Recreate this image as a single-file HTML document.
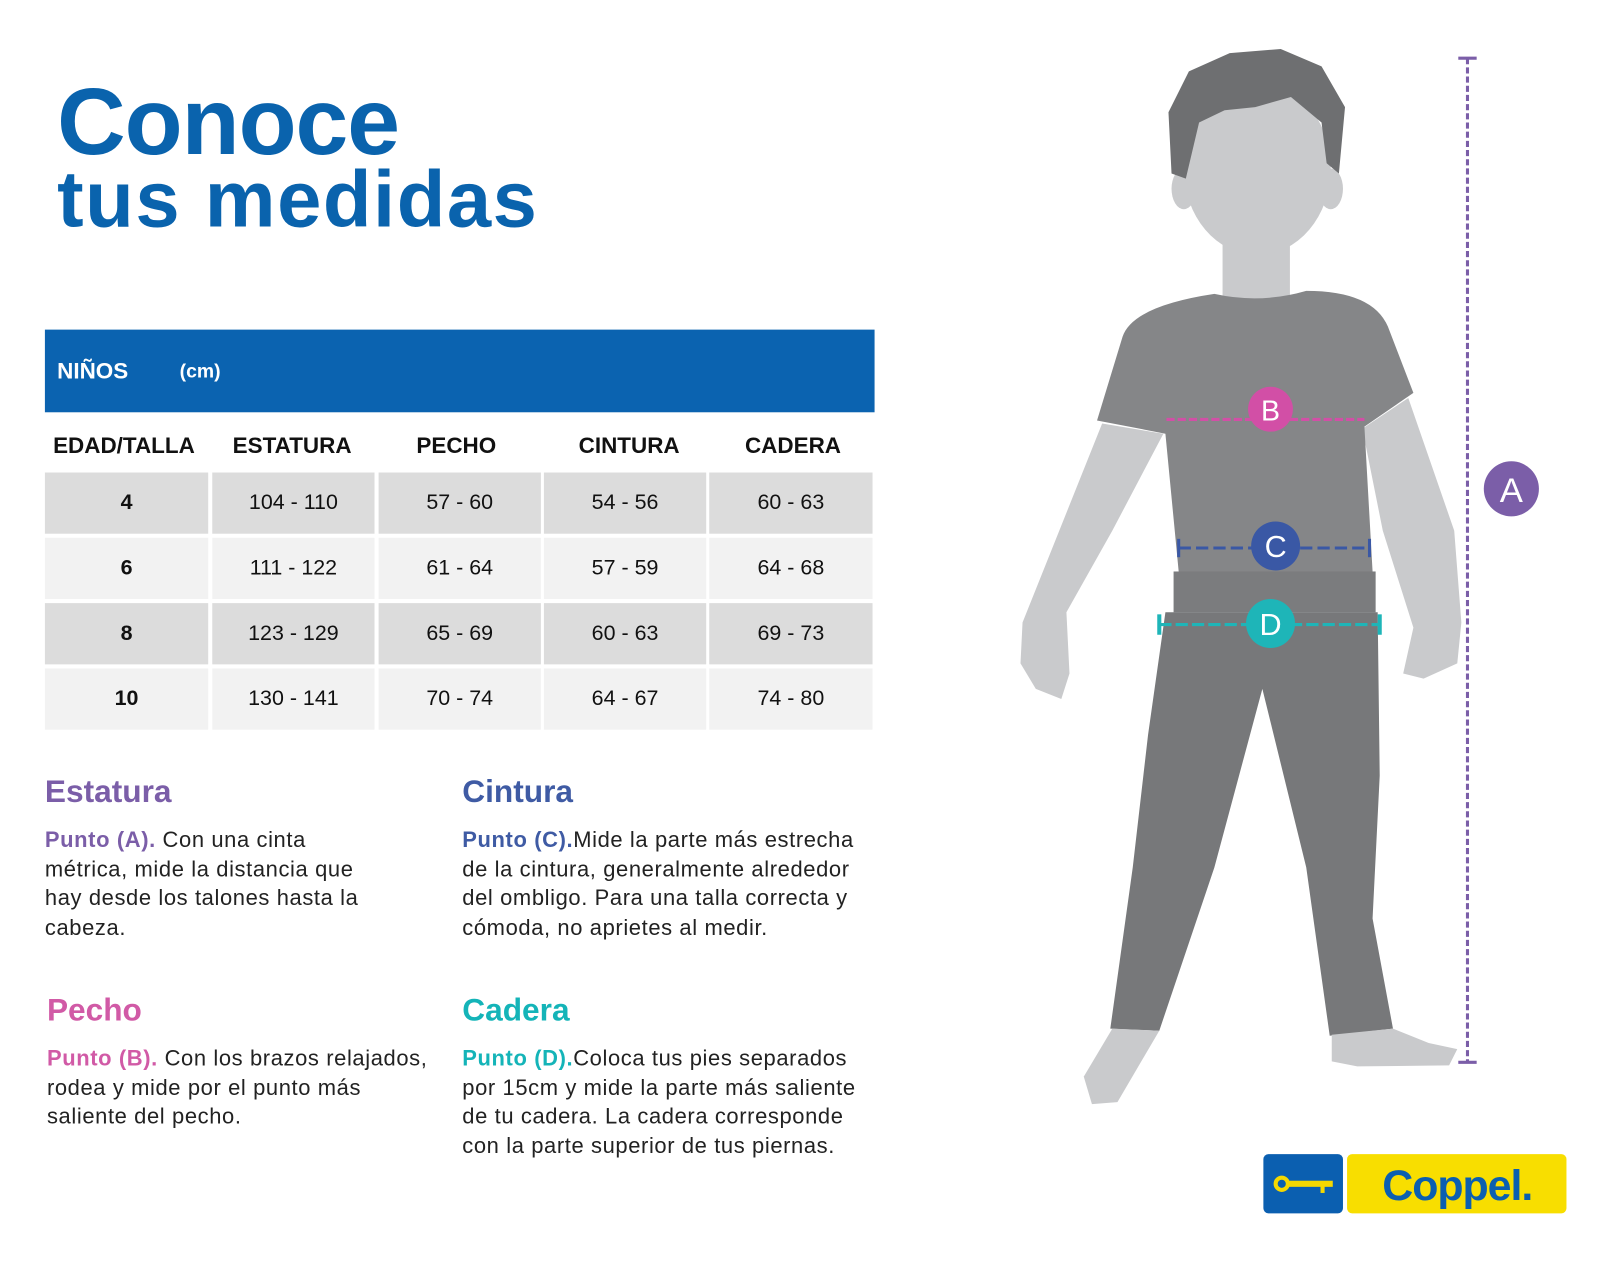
<!DOCTYPE html>
<html><head><meta charset="utf-8"><style>
html,body{margin:0;padding:0;background:#fff;}
body{width:1600px;height:1280px;overflow:hidden;position:relative;font-family:"Liberation Sans",sans-serif;}
#w{position:absolute;left:0;top:0;width:1570px;height:1255px;transform:scale(1.0205);transform-origin:0 0;}
.a{position:absolute;white-space:nowrap;}
.t1{left:56px;top:66px;font-size:93px;font-weight:bold;color:#0a63ad;letter-spacing:-1px;}
.t2{left:56px;top:150px;font-size:78px;font-weight:bold;color:#0a63ad;letter-spacing:1.5px;}
.bar{left:44px;top:323px;width:813px;height:81px;background:#0b63b0;}
.hd{font-size:22px;font-weight:bold;color:#111;top:424px;}
.c{position:absolute;height:60px;line-height:60px;text-align:center;font-size:21px;color:#111;}
.h2{font-size:31px;font-weight:bold;}
.p{font-size:21.5px;line-height:28.5px;color:#222;letter-spacing:0.6px;}
</style></head><body><div id="w">
<div class="a t1">Conoce</div>
<div class="a t2">tus medidas</div>
<div class="a bar"></div>
<div class="a" style="left:56px;top:351px;font-size:22px;font-weight:bold;color:#fff">NIÑOS</div>
<div class="a" style="left:176px;top:354px;font-size:19px;font-weight:bold;color:#fff">(cm)</div>
<div class="a hd" style="left:52px">EDAD/TALLA</div>
<div class="a hd" style="left:228px">ESTATURA</div>
<div class="a hd" style="left:408px">PECHO</div>
<div class="a hd" style="left:567px">CINTURA</div>
<div class="a hd" style="left:730px">CADERA</div>

<div class="c" style="left:44px;top:463px;width:160px;background:#dcdcdc;font-weight:bold">4</div>
<div class="c" style="left:208px;top:463px;width:159px;background:#dcdcdc">104 - 110</div>
<div class="c" style="left:371px;top:463px;width:159px;background:#dcdcdc">57 - 60</div>
<div class="c" style="left:533px;top:463px;width:159px;background:#dcdcdc">54 - 56</div>
<div class="c" style="left:695px;top:463px;width:160px;background:#dcdcdc">60 - 63</div>

<div class="c" style="left:44px;top:527px;width:160px;background:#f2f2f2;font-weight:bold">6</div>
<div class="c" style="left:208px;top:527px;width:159px;background:#f2f2f2">111 - 122</div>
<div class="c" style="left:371px;top:527px;width:159px;background:#f2f2f2">61 - 64</div>
<div class="c" style="left:533px;top:527px;width:159px;background:#f2f2f2">57 - 59</div>
<div class="c" style="left:695px;top:527px;width:160px;background:#f2f2f2">64 - 68</div>

<div class="c" style="left:44px;top:591px;width:160px;background:#dcdcdc;font-weight:bold">8</div>
<div class="c" style="left:208px;top:591px;width:159px;background:#dcdcdc">123 - 129</div>
<div class="c" style="left:371px;top:591px;width:159px;background:#dcdcdc">65 - 69</div>
<div class="c" style="left:533px;top:591px;width:159px;background:#dcdcdc">60 - 63</div>
<div class="c" style="left:695px;top:591px;width:160px;background:#dcdcdc">69 - 73</div>

<div class="c" style="left:44px;top:655px;width:160px;background:#f2f2f2;font-weight:bold">10</div>
<div class="c" style="left:208px;top:655px;width:159px;background:#f2f2f2">130 - 141</div>
<div class="c" style="left:371px;top:655px;width:159px;background:#f2f2f2">70 - 74</div>
<div class="c" style="left:533px;top:655px;width:159px;background:#f2f2f2">64 - 67</div>
<div class="c" style="left:695px;top:655px;width:160px;background:#f2f2f2">74 - 80</div>

<div class="a h2" style="left:44px;top:758px;color:#7b5ea8">Estatura</div>
<div class="a p" style="left:44px;top:809px"><b style="color:#7b5ea8">Punto (A).</b> Con una cinta<br>métrica, mide la distancia que<br>hay desde los talones hasta la<br>cabeza.</div>
<div class="a h2" style="left:453px;top:758px;color:#3f5ba4">Cintura</div>
<div class="a p" style="left:453px;top:809px"><b style="color:#3f5ba4">Punto (C).</b>Mide la parte más estrecha<br>de la cintura, generalmente alrededor<br>del ombligo. Para una talla correcta y<br>cómoda, no aprietes al medir.</div>
<div class="a h2" style="left:46px;top:972px;color:#d15aa6">Pecho</div>
<div class="a p" style="left:46px;top:1023px"><b style="color:#d15aa6">Punto (B).</b> Con los brazos relajados,<br>rodea y mide por el punto más<br>saliente del pecho.</div>
<div class="a h2" style="left:453px;top:972px;color:#14b4b8">Cadera</div>
<div class="a p" style="left:453px;top:1023px"><b style="color:#14b4b8">Punto (D).</b>Coloca tus pies separados<br>por 15cm y mide la parte más saliente<br>de tu cadera. La cadera corresponde<br>con la parte superior de tus piernas.</div>

<svg class="a" style="left:0;top:0" width="1570" height="1255" viewBox="0 0 1570 1255">
<path d="M1080,415 L1140,425 L1090,520 L1045,600 L1048,660 L1040,685 L1015,675 L1000,650 L1002,610 Z" fill="#c9cacc"/>
<path d="M1380,390 L1335,420 L1355,520 L1385,615 L1375,660 L1395,665 L1428,650 L1432,610 L1425,520 Z" fill="#c9cacc"/>
<rect x="1198" y="225" width="66" height="70" fill="#c9cacc"/>
<ellipse cx="1232" cy="165" rx="72" ry="85" fill="#c9cacc"/>
<ellipse cx="1160" cy="185" rx="12" ry="20" fill="#c9cacc"/>
<ellipse cx="1304" cy="185" rx="12" ry="20" fill="#c9cacc"/>
<path d="M1148,170 L1145,110 L1165,70 L1205,52 L1255,48 L1295,65 L1318,105 L1312,170 L1300,160 L1295,120 L1265,95 L1230,105 L1200,108 L1175,120 L1162,175 Z" fill="#6e6f71"/>
<path d="M1100,330 Q1110,300 1190,288 Q1235,298 1280,285 Q1345,285 1360,320 L1385,385 L1337,418 L1345,560 L1155,560 L1142,425 L1075,412 Z" fill="#858688"/>
<rect x="1150" y="560" width="198" height="40" fill="#7b7c7e"/>
<path d="M1142,600 L1350,600 L1352,760 L1345,900 L1365,1008 L1303,1015 L1280,850 L1237,675 L1190,850 L1136,1010 L1088,1008 L1110,850 L1125,720 Z" fill="#77787a"/>
<path d="M1090,1008 L1136,1010 L1095,1080 L1070,1082 L1062,1055 Z" fill="#c9cacc"/>
<path d="M1305,1014 L1365,1008 L1400,1022 L1428,1028 L1420,1044 L1330,1045 L1305,1040 Z" fill="#c9cacc"/>
<line x1="1143" y1="411" x2="1337" y2="411" stroke="#d24fa6" stroke-width="3" stroke-dasharray="8,3"/>
<circle cx="1245" cy="401" r="22" fill="#d24fa6"/>
<text x="1245" y="412" font-size="28" fill="#fff" text-anchor="middle" font-family="Liberation Sans">B</text>
<line x1="1155" y1="537" x2="1342" y2="537" stroke="#3a58a5" stroke-width="3" stroke-dasharray="12,5"/>
<line x1="1155" y1="528" x2="1155" y2="546" stroke="#3a58a5" stroke-width="3"/>
<line x1="1342" y1="528" x2="1342" y2="546" stroke="#3a58a5" stroke-width="3"/>
<circle cx="1250" cy="535" r="24" fill="#3a58a5"/>
<text x="1250" y="546" font-size="30" fill="#fff" text-anchor="middle" font-family="Liberation Sans">C</text>
<line x1="1136" y1="612" x2="1352" y2="612" stroke="#1eb5b8" stroke-width="3" stroke-dasharray="12,4"/>
<line x1="1136" y1="602" x2="1136" y2="622" stroke="#1eb5b8" stroke-width="4"/>
<line x1="1352" y1="602" x2="1352" y2="622" stroke="#1eb5b8" stroke-width="4"/>
<circle cx="1245" cy="611" r="24" fill="#1eb5b8"/>
<text x="1245" y="622" font-size="30" fill="#fff" text-anchor="middle" font-family="Liberation Sans">D</text>
<line x1="1438" y1="57" x2="1438" y2="1041" stroke="#7b5ea8" stroke-width="3" stroke-dasharray="6,3"/>
<line x1="1429" y1="57" x2="1447" y2="57" stroke="#7b5ea8" stroke-width="3"/>
<line x1="1429" y1="1041" x2="1447" y2="1041" stroke="#7b5ea8" stroke-width="3"/>
<circle cx="1481" cy="479" r="27" fill="#7b5ea8"/>
<text x="1481" y="492" font-size="34" fill="#fff" text-anchor="middle" font-family="Liberation Sans">A</text>
<rect x="1238" y="1131" width="78" height="58" rx="5" fill="#0b5fb0"/>
<circle cx="1256" cy="1160" r="6" fill="none" stroke="#f5d800" stroke-width="4"/>
<rect x="1262" y="1157" width="44" height="6" fill="#f5d800"/>
<rect x="1294" y="1161" width="4" height="8" fill="#f5d800"/>
<rect x="1320" y="1131" width="215" height="58" rx="5" fill="#f8de00"/>
<text x="1428" y="1176" font-size="42" fill="#0b5fb0" text-anchor="middle" font-family="Liberation Sans" font-weight="bold" letter-spacing="-1">Coppel.</text>
</svg>
</div></body></html>
